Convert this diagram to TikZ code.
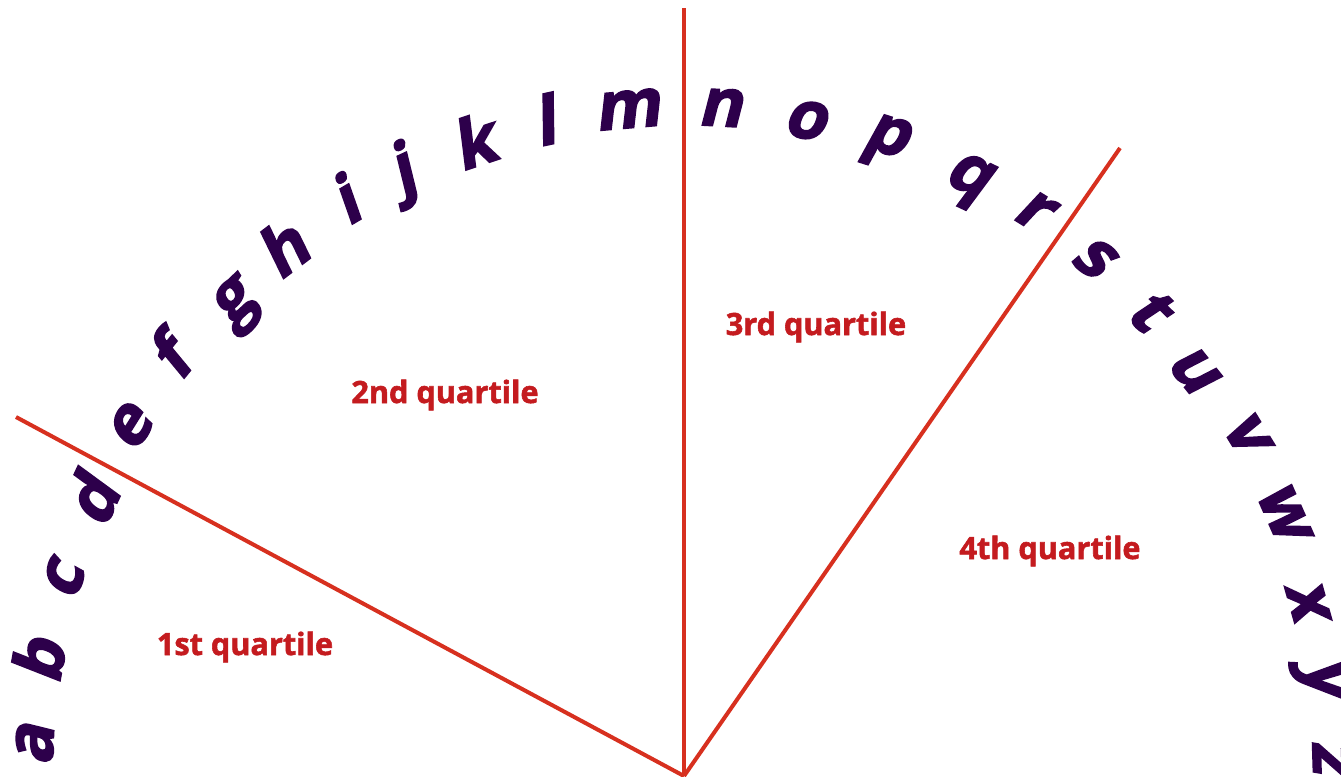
\documentclass[tikz,border=0pt]{standalone}
\usepackage{fontspec}
\newfontfamily\letterfont{Open Sans}[BoldFeatures={FakeBold=2.5,FakeSlant=0.2}]
\newfontfamily\labelfont{Open Sans}[BoldFeatures={FakeBold=1.8}]
\definecolor{letterpurple}{RGB}{45,0,75}
\definecolor{labelred}{RGB}{196,27,31}
\definecolor{linered}{RGB}{215,48,31}
\tikzset{
  letter/.style={font=\letterfont\bfseries\fontsize{50}{50}\selectfont, text=letterpurple, inner sep=0pt, anchor=base},
  quartlabel/.style={font=\labelfont\bfseries\fontsize{23}{23}\selectfont, text=labelred, inner sep=0pt, anchor=base},
  divider/.style={draw=linered, line width=3pt}
}
\begin{document}
\begin{tikzpicture}[x=0.75pt,y=-0.75pt]
\useasboundingbox (0,0) rectangle (1341,776);
\coordinate (O) at (684,776);
\coordinate (E1) at (16,417);
\coordinate (E2) at (684,8);
\coordinate (E3) at (1120,148);
\draw[divider] (O) -- (E1);
\draw[divider] (O) -- (E2);
\draw[divider] (O) -- (E3);
\foreach \ch/\px/\py/\rr in {
  a/35/745/87.3, b/45/662/79.9, c/63.5/580/72.5, d/97/503/65.1,
  e/130/428/57.9, f/174/362/50.9, g/232/302/43.6, h/286/254/37.3,
  i/347.5/206/30.6, j/403/174/25.0, k/475/148/18.4, l/545/127/12.1,
  m/627/110/4.9, n/720/108/-3.1, o/805/120/-10.5, p/887/135/-17.6,
  q/969/174/-25.3, r/1033/210/-31.7, s/1093/257/-38.2, t/1147/312/-44.9,
  u/1193/369/-51.4, v/1245.5/432.5/-58.5, w/1283/511/-66.1, x/1307/600/-74.3,
  y/1325/677/-81.25, z/1331/757/-88.3}
{
  \node[letter, rotate=\rr] (let\ch) at ({\px+18*sin(\rr)},{\py+18*cos(\rr)}) {\ch};
}
\node[quartlabel] (q1) at (245,655) {1st quartile};
\node[quartlabel] (q2) at (445,403) {2nd quartile};
\node[quartlabel] (q3) at (816,335) {3rd quartile};
\node[quartlabel] (q4) at (1050,559) {4th quartile};
\end{tikzpicture}
\end{document}
